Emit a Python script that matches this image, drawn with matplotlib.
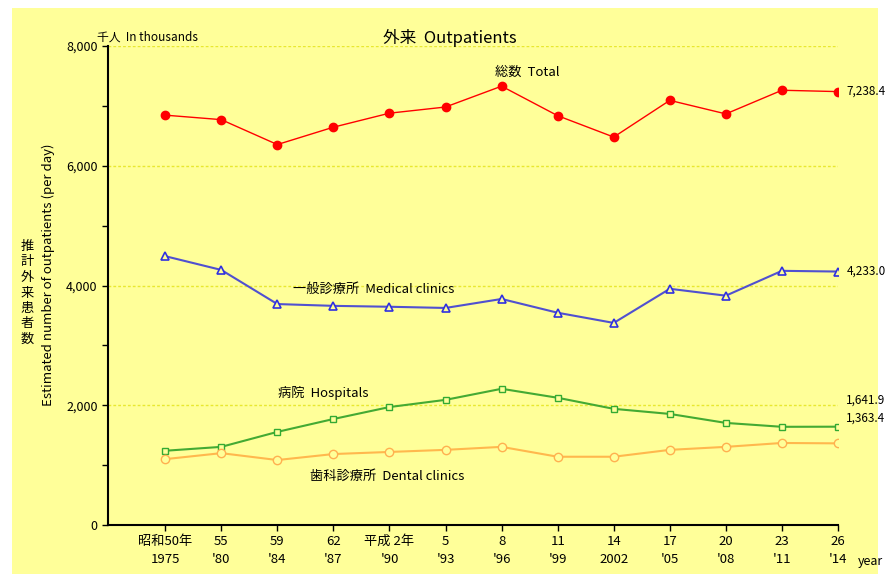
import numpy as np
import matplotlib
matplotlib.use('Agg')
import matplotlib.pyplot as plt
from matplotlib.patches import Rectangle

plt.rcParams['font.family'] = ['Noto Sans CJK JP', 'DejaVu Sans']
JP = ['Noto Sans CJK JP', 'DejaVu Sans']

# data (thousands per day)
era = ['昭和50年', '55', '59', '62', '平成 2年', '5', '8', '11', '14', '17', '20', '23', '26']
year = ['1975', "'80", "'84", "'87", "'90", "'93", "'96", "'99", '2002', "'05", "'08", "'11", "'14"]
total = [6845, 6770, 6354, 6644, 6878, 6981, 7329, 6836, 6479, 7092, 6866, 7261, 7238.4]
clinics = [4490, 4260, 3690, 3660, 3645, 3625, 3775, 3545, 3375, 3945, 3830, 4245, 4233.0]
hospitals = [1240, 1305, 1555, 1770, 1970, 2090, 2275, 2125, 1940, 1855, 1705, 1640, 1641.9]
dental = [1100, 1200, 1085, 1185, 1220, 1255, 1305, 1140, 1140, 1255, 1305, 1370, 1363.4]

bg = '#FFFF99'
fig = plt.figure(figsize=(8.88, 5.8), dpi=100)
fig.patches.append(Rectangle((12/888, 6/580), 866/888, 566/580, transform=fig.transFigure,
                             facecolor=bg, edgecolor='none', zorder=-10))
ax = fig.add_axes([108/888, 1-525/580, 730/888, 479/580])
ax.set_facecolor(bg)
ax.set_zorder(1)

x = np.arange(len(year))
ax.plot(x, total, '-o', color='#FF0000', lw=1.0, ms=6, mfc='#FF0000', mec='#FF0000', zorder=3)
ax.plot(x, clinics, '-^', color='#5050D0', lw=1.5, ms=6, mfc=bg, mec='#3030E0', mew=1.2, zorder=3)
ax.plot(x, hospitals, '-s', color='#44AA33', lw=1.5, ms=5, mfc=bg, mec='#33AA33', mew=1.0, zorder=3)
ax.plot(x, dental, '-o', color='#FFB84D', lw=1.5, ms=6, mfc=bg, mec='#FFB050', mew=1.0, zorder=3)

ax.set_xlim(-1.02, 12)
ax.set_ylim(0, 8000)
ax.set_yticks([0, 2000, 4000, 6000, 8000])
ax.set_yticklabels(['0', '2,000', '4,000', '6,000', '8,000'], fontsize=9)
ax.set_yticks([1000, 3000, 5000, 7000], minor=True)
ax.set_xticks(x)
ax.set_xticklabels(['%s\n%s' % (e, y) for e, y in zip(era, year)], fontsize=9.5,
                   linespacing=1.5, family=JP)
ax.tick_params(axis='x', length=4, width=1, pad=3)
ax.tick_params(axis='y', which='both', length=4, width=1, direction='out')
for s in ['top', 'right']:
    ax.spines[s].set_visible(False)
ax.spines['left'].set_linewidth(1.5)
ax.spines['bottom'].set_linewidth(1.5)
for g in [2000, 4000, 6000, 8000]:
    ax.axhline(g, color='#E8E830', lw=1.0, ls=(0, (2, 1.5)), zorder=1)

# end values
for v, off in [(total[-1], 0), (clinics[-1], 0), (hospitals[-1], 19), (dental[-1], 18)]:
    ax.annotate('{:,.1f}'.format(v), (x[-1], v), xytext=(6, off), textcoords='offset points',
                fontsize=8.5, va='center', ha='left', annotation_clip=False)

# series labels
fig.text(495/888, 1-72/580, '総数  Total', fontsize=9.5, family=JP, va='center')
fig.text(293/888, 1-289/580, '一般診療所  Medical clinics', fontsize=9.5, family=JP, va='center')
fig.text(278/888, 1-393/580, '病院  Hospitals', fontsize=9.5, family=JP, va='center')
fig.text(310/888, 1-476/580, '歯科診療所  Dental clinics', fontsize=9.5, family=JP, va='center')

fig.text(450/888, 1-38/580, '外来  Outpatients', fontsize=12, family=JP, ha='center', va='center')
fig.text(97/888, 1-37/580, '千人  In thousands', fontsize=8.5, family=JP, va='center')
fig.text(858/888, 1-561/580, 'year', fontsize=9, va='center')

fig.text(27/888, 1-293/580, '\n'.join('推計外来患者数'), fontsize=9.5, family=JP,
         ha='center', va='center', linespacing=1.25)
fig.text(48/888, 1-275/580, 'Estimated number of outpatients (per day)', fontsize=9.5,
         family=JP, rotation=90, ha='center', va='center')

fig.savefig('out.png', dpi=100, facecolor='white')
